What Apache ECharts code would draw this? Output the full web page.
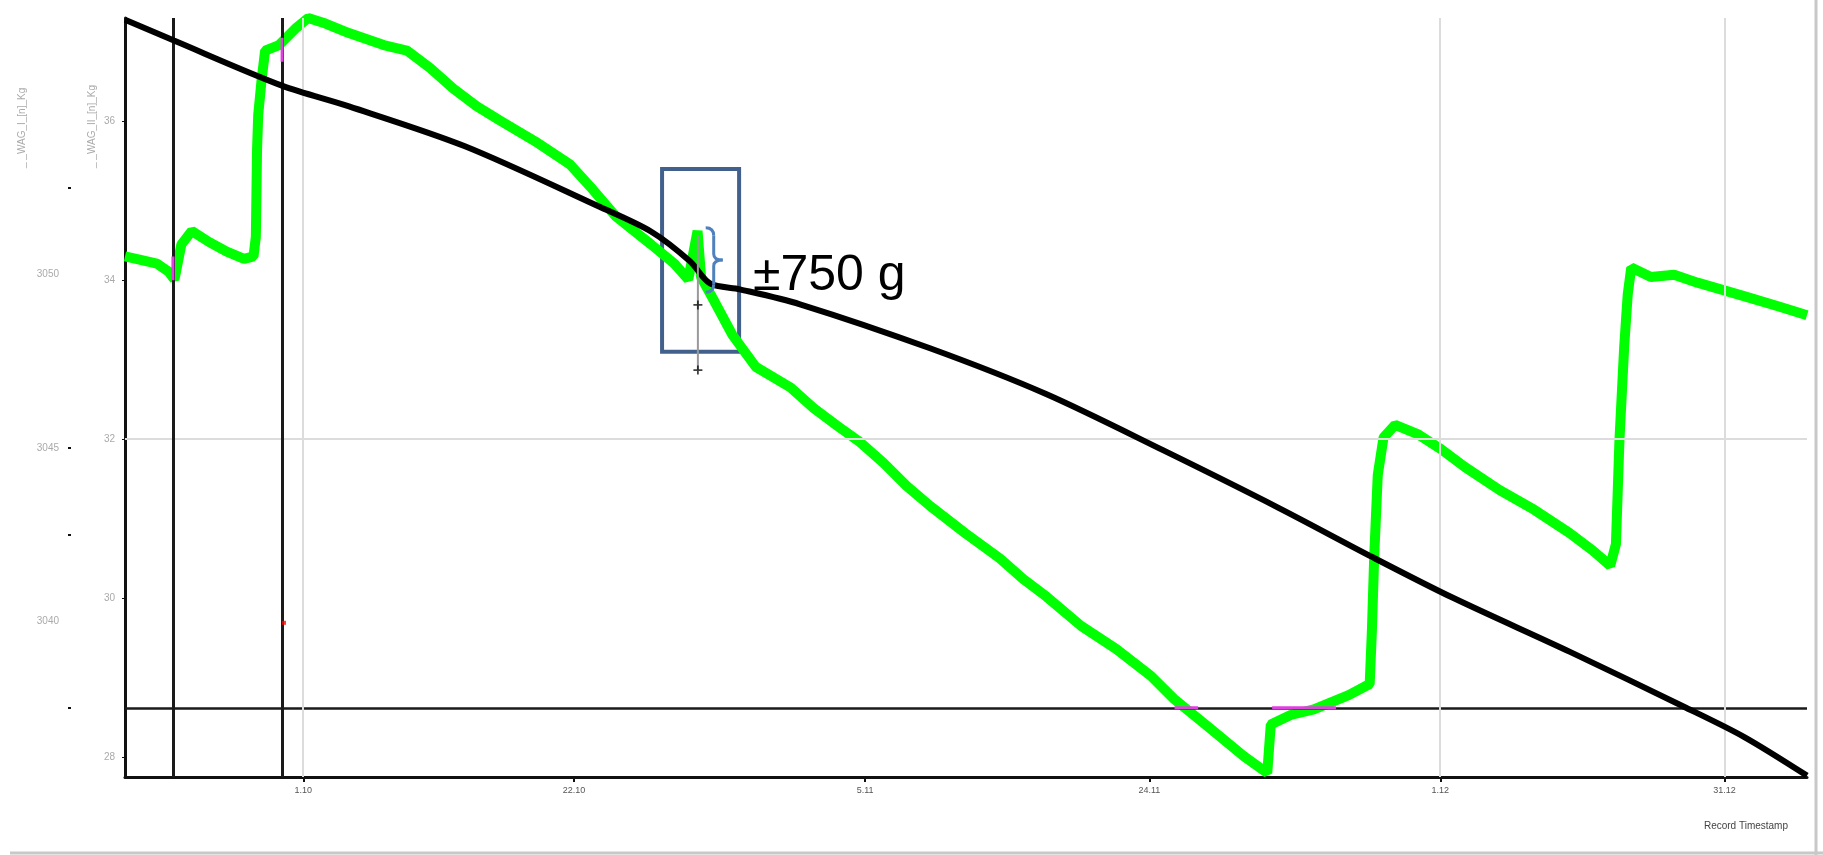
<!DOCTYPE html>
<html>
<head>
<meta charset="utf-8">
<script src="https://cdn.jsdelivr.net/npm/echarts@6/dist/echarts.min.js"></script>
<style>
html, body { margin: 0; padding: 0; background: #fff; }
#main { width: 1823px; height: 855px; }
</style>
</head>
<body>
<div id="main"></div>
<script>
// x is the position along the record (0..100), green in kg, black on the outer axis
var greenX = [0, 0.86, 1.90, 2.59, 2.94, 3.35, 3.97, 5.01, 6.05, 7.08,
    7.64, 7.78, 7.85, 7.92, 8.12, 8.33, 9.16, 10.20, 10.89, 11.92,
    13.31, 15.38, 16.76, 18.14, 19.53, 20.91, 22.29, 24.37, 26.44, 27.82,
    29.20, 31.28, 32.66, 33.49, 34.04, 34.25, 35.08, 36.12, 37.50, 39.57,
    40.95, 42.34, 43.72, 45.10, 46.48, 47.87, 49.94, 52.02, 53.40, 54.78,
    56.85, 58.93, 61.00, 62.38, 64.46, 66.53, 67.91, 68.12, 69.30, 70.68,
    72.75, 74.00, 74.13, 74.27, 74.48, 74.82, 75.51, 76.89, 78.27, 79.66,
    81.73, 83.80, 85.88, 87.26, 88.30, 88.64, 88.85, 89.13, 89.34, 89.55,
    90.72, 92.10, 93.49, 96.25, 98.33, 100];
var greenKg = [34.30, 34.26, 34.21, 34.11, 34.01, 34.45, 34.62, 34.48, 34.36, 34.27,
    34.30, 34.55, 35.64, 36.08, 36.52, 36.89, 36.96, 37.18, 37.30, 37.23,
    37.11, 36.96, 36.89, 36.67, 36.41, 36.19, 36.01, 35.75, 35.46, 35.14,
    34.80, 34.45, 34.21, 34.01, 34.62, 34.04, 33.72, 33.31, 32.91, 32.65,
    32.39, 32.17, 31.96, 31.70, 31.41, 31.16, 30.82, 30.50, 30.24, 30.02,
    29.65, 29.36, 29.02, 28.73, 28.37, 28.01, 27.80, 28.41, 28.53, 28.60,
    28.78, 28.92, 29.58, 30.53, 31.55, 32.02, 32.18, 32.06, 31.87, 31.65,
    31.36, 31.11, 30.82, 30.60, 30.41, 30.68, 31.99, 33.16, 33.82, 34.16,
    34.04, 34.07, 33.97, 33.80, 33.67, 33.56];

var blackX = [0, 2.91, 9.33, 13.32, 20.21, 28.18, 31.27, 33.59, 34.78, 36.56,
    40.13, 47.86, 54.76, 61.71, 68.61, 74.14, 78.95, 85.91, 92.81, 96.25, 100];
var blackVal = [30.5735, 30.5675, 30.5545, 30.5485, 30.5370, 30.5196, 30.5124, 30.5038, 30.4974, 30.4957,
    30.4914, 30.4787, 30.4655, 30.4493, 30.4326, 30.4185, 30.4067, 30.3911, 30.3750, 30.3666, 30.3554];

var xTicks = [10.6, 26.7, 44.0, 60.9, 78.2, 95.1];
var xLabels = ['1.10', '22.10', '5.11', '24.11', '1.12', '31.12'];
var kgTicks = [36, 34, 32, 30, 28];
var outerTicks = [30.50, 30.45, 30.40];
var outerLabels = ['3050', '3045', '3040'];
var outerMinor = [30.525, 30.45, 30.425, 30.375];

var markerX = [2.85, 9.34];
var gridX = [10.58, 78.19, 95.13];
var gridKg = [32];
var limitKg = 28.62;

// magenta bits where the trace touches the markers
var pinkX = [2.85, 2.85, null, 9.34, 9.34, null, 62.4, 63.8, null, 68.2, 72.0];
var pinkKg = [34.0, 34.3, null, 36.75, 37.05, null, 28.62, 28.62, null, 28.62, 28.62];

// the +/- spread drawn at the spike
var errX = [34.06, 34.06];
var errKg = [34.57, 32.87];
var errCaps = [33.69, 32.87];
var redDot = [9.45, 29.69];

var boxFrom = [31.93, 35.40];
var boxTo = [36.51, 33.10];
var braceTop = [35.0, 34.66];
var braceBottom = [35.0, 33.85];
var noteAt = [37.34, 34.05];
var noteText = '±750 g';

function zip(xs, ys) {
    var out = [];
    for (var i = 0; i < xs.length; i++) {
        out.push(xs[i] === null ? [null, null] : [xs[i], ys[i]]);
    }
    return out;
}

var chart = echarts.init(document.getElementById('main'));

var vLines = [];
for (var i = 0; i < markerX.length; i++) {
    vLines.push({ xAxis: markerX[i], lineStyle: { color: '#1a1a1a', width: 3, type: 'solid' } });
}
for (var j = 0; j < gridX.length; j++) {
    vLines.push({ xAxis: gridX[j], lineStyle: { color: '#dcdcdc', width: 2, type: 'solid' } });
}

var option = {
    animation: false,
    backgroundColor: '#fff',
    grid: { left: 125, right: 16, top: 18, bottom: 78 },
    xAxis: {
        type: 'value',
        min: 0,
        max: 100,
        axisLine: { show: true, lineStyle: { color: '#111', width: 3 } },
        axisTick: { show: true, customValues: xTicks, length: 5, lineStyle: { color: '#111', width: 2 } },
        axisLabel: {
            customValues: xTicks,
            color: '#555',
            fontSize: 9,
            margin: 9,
            formatter: function (v) {
                var k = xTicks.indexOf(v);
                return k >= 0 ? xLabels[k] : '';
            }
        },
        splitLine: { show: false }
    },
    yAxis: [
        {
            type: 'value',
            min: 27.75,
            max: 37.3,
            position: 'left',
            axisLine: { show: true, lineStyle: { color: '#111', width: 3 } },
            axisTick: { show: true, customValues: kgTicks, length: 3, lineStyle: { color: '#111' } },
            axisLabel: { customValues: kgTicks, color: '#aaa', fontSize: 10, margin: 10 },
            splitLine: { show: false }
        },
        {
            type: 'value',
            min: 30.355,
            max: 30.574,
            position: 'left',
            offset: 54,
            axisLine: { show: false },
            axisTick: { show: true, customValues: outerMinor, length: 3, lineStyle: { color: '#111', width: 2 } },
            axisLabel: {
                customValues: outerTicks,
                color: '#aaa',
                fontSize: 10,
                margin: 12,
                formatter: function (v) {
                    for (var k = 0; k < outerTicks.length; k++) {
                        if (Math.abs(outerTicks[k] - v) < 1e-6) return outerLabels[k];
                    }
                    return '';
                }
            },
            splitLine: { show: false }
        }
    ],
    series: [
        {
            name: 'kg',
            type: 'line',
            yAxisIndex: 0,
            data: zip(greenX, greenKg),
            showSymbol: false,
            lineStyle: { color: '#00ff00', width: 10 },
            z: 3,
            markLine: {
                silent: true,
                symbol: 'none',
                label: { show: false },
                data: [
                    { yAxis: gridKg[0], lineStyle: { color: '#dcdcdc', width: 2, type: 'solid' } },
                    { yAxis: limitKg, lineStyle: { color: '#1a1a1a', width: 2.5, type: 'solid' } }
                ]
            },
            markArea: {
                silent: true,
                itemStyle: { color: 'rgba(0,0,0,0)', borderColor: '#41618c', borderWidth: 4 },
                data: [[{ coord: boxFrom }, { coord: boxTo }]]
            }
        },
        {
            name: 'pink',
            type: 'line',
            yAxisIndex: 0,
            data: zip(pinkX, pinkKg),
            showSymbol: false,
            connectNulls: false,
            lineStyle: { color: '#e040e0', width: 3 },
            z: 6
        },
        {
            name: 'ref',
            type: 'line',
            yAxisIndex: 1,
            data: zip(blackX, blackVal),
            showSymbol: false,
            smooth: 0.3,
            lineStyle: { color: '#000', width: 6 },
            z: 5,
            markLine: {
                silent: true,
                symbol: 'none',
                label: { show: false },
                data: vLines
            }
        },
        {
            name: 'spread',
            type: 'line',
            yAxisIndex: 0,
            data: zip(errX, errKg),
            showSymbol: false,
            lineStyle: { color: '#999', width: 2 },
            z: 7
        },
        {
            name: 'caps',
            type: 'scatter',
            yAxisIndex: 0,
            data: zip([errX[0], errX[0]], errCaps),
            symbol: 'path://M4,0H6V4H10V6H6V10H4V6H0V4H4Z',
            symbolSize: 9,
            itemStyle: { color: '#111' },
            z: 8
        },
        {
            name: 'dot',
            type: 'scatter',
            yAxisIndex: 0,
            data: [redDot],
            symbol: 'rect',
            symbolSize: 4,
            itemStyle: { color: '#ff0000' },
            z: 8
        }
    ]
};

chart.setOption(option);

function braceParts(top, bot) {
    var x0 = top[0] - 8, x1 = top[0], mid = (top[1] + bot[1]) / 2;
    var st = { stroke: '#4f81bd', lineWidth: 3, fill: 'none' };
    return [
        { type: 'bezierCurve', z: 100, shape: { x1: x0, y1: top[1], cpx1: x1, cpy1: top[1], x2: x1, y2: top[1] + 8 }, style: st },
        { type: 'line', z: 100, shape: { x1: x1, y1: top[1] + 8, x2: x1, y2: mid - 6 }, style: st },
        { type: 'bezierCurve', z: 100, shape: { x1: x1, y1: mid - 6, cpx1: x1, cpy1: mid, x2: x1 + 9, y2: mid }, style: st },
        { type: 'bezierCurve', z: 100, shape: { x1: x1 + 9, y1: mid, cpx1: x1, cpy1: mid, x2: x1, y2: mid + 6 }, style: st },
        { type: 'line', z: 100, shape: { x1: x1, y1: mid + 6, x2: x1, y2: bot[1] - 8 }, style: st },
        { type: 'bezierCurve', z: 100, shape: { x1: x1, y1: bot[1] - 8, cpx1: x1, cpy1: bot[1], x2: x0, y2: bot[1] }, style: st }
    ];
}

function addNotes() {
    var top = chart.convertToPixel({ xAxisIndex: 0, yAxisIndex: 0 }, braceTop);
    var bot = chart.convertToPixel({ xAxisIndex: 0, yAxisIndex: 0 }, braceBottom);
    var note = chart.convertToPixel({ xAxisIndex: 0, yAxisIndex: 0 }, noteAt);

    var items = braceParts(top, bot).concat([
        {
            type: 'text', x: note[0], y: note[1], z: 100,
            style: {
                text: noteText, fill: '#000', fontSize: 50,
                fontFamily: '"Liberation Sans", sans-serif',
                align: 'left', verticalAlign: 'middle'
            }
        },
        {
            type: 'text', x: 22, y: 168, rotation: Math.PI / 2,
            style: { text: '_ _WAG_I_[n]_Kg', fill: '#aaa', fontSize: 10, align: 'left', verticalAlign: 'middle' }
        },
        {
            type: 'text', x: 92, y: 168, rotation: Math.PI / 2,
            style: { text: '_ _WAG_II_[n]_Kg', fill: '#aaa', fontSize: 10, align: 'left', verticalAlign: 'middle' }
        },
        {
            type: 'text', x: 1788, y: 826,
            style: { text: 'Record Timestamp', fill: '#444', fontSize: 10, align: 'right', verticalAlign: 'middle' }
        },
        { type: 'line', shape: { x1: 1816, y1: 0, x2: 1816, y2: 855 }, style: { stroke: '#c8c8c8', lineWidth: 3 } },
        { type: 'line', shape: { x1: 10, y1: 853, x2: 1823, y2: 853 }, style: { stroke: '#c8c8c8', lineWidth: 3 } }
    ]);

    chart.setOption({ graphic: items });
}

addNotes();
</script>
</body>
</html>
